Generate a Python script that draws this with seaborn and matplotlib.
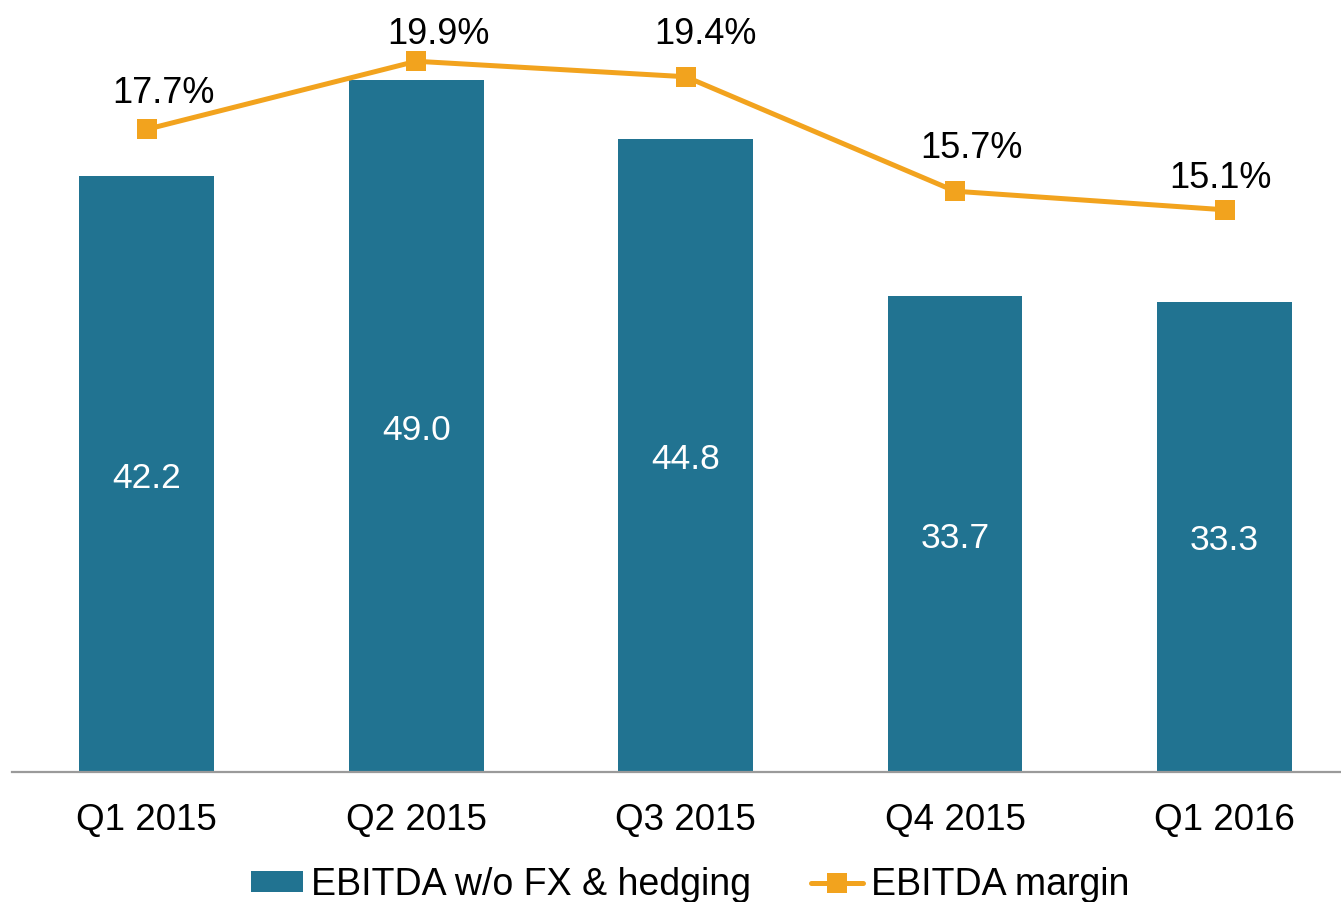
import matplotlib.pyplot as plt
import pandas as pd
import seaborn as sns

quarters = ["Q1 2015", "Q2 2015", "Q3 2015", "Q4 2015", "Q1 2016"]
ebitda = [42.2, 49.0, 44.8, 33.7, 33.3]
margin = [17.7, 19.9, 19.4, 15.7, 15.1]
ebitda_labels = ["42.2", "49.0", "44.8", "33.7", "33.3"]
margin_labels = ["17.7%", "19.9%", "19.4%", "15.7%", "15.1%"]

# label offsets (pixels) for the margin labels, as placed in the original
margin_offsets = [(17, 36), (22, 27), (20, 42), (16, 43), (-4, 31)]

bar_color = "#217391"
line_color = "#F2A31E"

df = pd.DataFrame({"quarter": quarters, "ebitda": ebitda, "margin": margin})

sns.set_theme(style="white")
plt.rcParams["font.family"] = ["Liberation Sans", "DejaVu Sans"]
plt.rcParams["text.color"] = "black"

W, H = 1341, 902
fig = plt.figure(figsize=(W / 100, H / 100), dpi=100)
ax = fig.add_axes([12 / W, (H - 772) / H, (W - 12) / W, 772 / H])

sns.barplot(data=df, x="quarter", y="ebitda", color=bar_color, width=0.5,
            saturation=1, linewidth=0, ax=ax)
ax.set_xlim(-0.5, 4.432)
ax.set_ylim(0, 54.67)

for i, (v, txt) in enumerate(zip(ebitda, ebitda_labels)):
    ax.annotate(txt, (i, v / 2), xytext=(0, -4), textcoords="offset pixels",
                color="white", ha="center", va="center", fontsize=25.5)

ax2 = ax.twinx()
sns.lineplot(data=df, x="quarter", y="margin", color=line_color, linewidth=3.6,
             marker="s", markersize=14.4, markeredgewidth=0, ax=ax2,
             legend=False)
ax2.set_ylim(-3.07, 21.88)

for i, (v, txt, off) in enumerate(zip(margin, margin_labels, margin_offsets)):
    ax2.annotate(txt, (i, v), xytext=off, textcoords="offset pixels",
                 ha="center", va="center", fontsize=26, color="black")

for a in (ax, ax2):
    for s in ["top", "right", "left"]:
        a.spines[s].set_visible(False)
    a.set_yticks([])
    a.set_ylabel("")
    a.set_xlabel("")
ax2.spines["bottom"].set_visible(False)
ax.spines["bottom"].set_color("#9a9a9a")
ax.spines["bottom"].set_linewidth(1.6)
ax.tick_params(axis="x", length=0, pad=22, labelsize=26.5, labelcolor="black")

handles = [ax.patches[0], ax2.lines[0]]
labels = ["EBITDA w/o FX & hedging", "EBITDA margin"]
fig.legend(handles, labels, loc="center", bbox_to_anchor=(690 / W, 1 - 885 / H),
           ncol=2, frameon=False, fontsize=27, handlelength=1.4,
           handleheight=0.5, handletextpad=0.2, columnspacing=1.6,
           borderpad=0, borderaxespad=0, labelcolor="black")

fig.savefig("out.png", dpi=100)
